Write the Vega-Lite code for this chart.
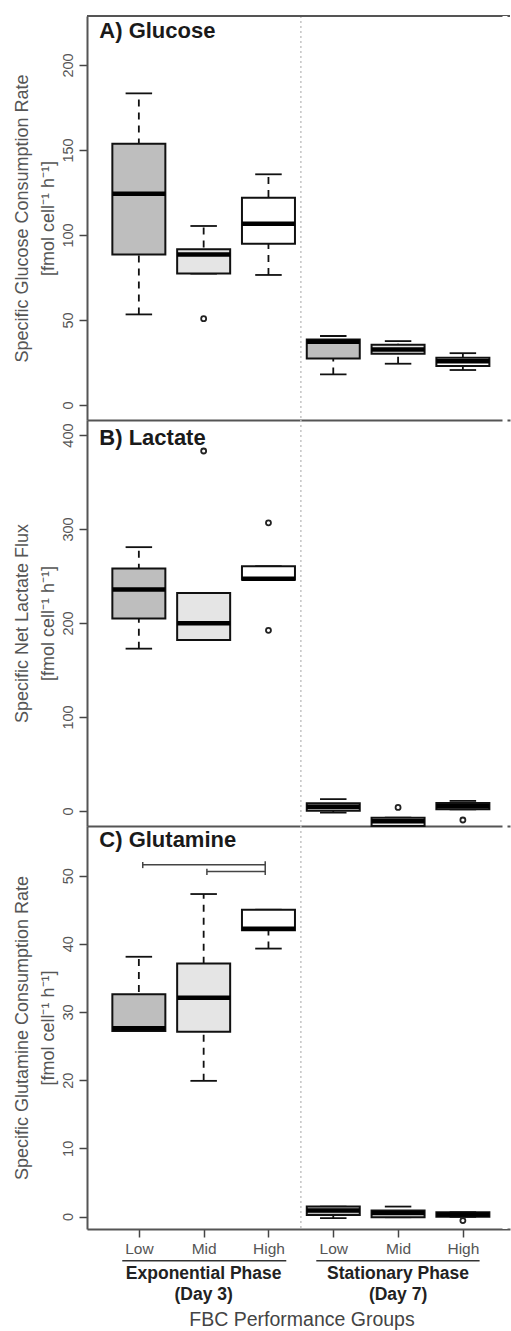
{
  "$schema": "https://vega.github.io/schema/vega-lite/v6.json",
  "padding": {"left": 13, "top": 13, "right": 0, "bottom": 0},
  "spacing": 0,
  "bounds": "flush",
  "config": {
    "font": "Liberation Sans",
    "view": {"stroke": null, "strokeWidth": 0},
    "axis": {"grid": false, "domainColor": "#555555", "domainWidth": 2, "tickColor": "#444444", "tickWidth": 1.5, "labelColor": "#555555", "titleColor": "#555555", "titleFontWeight": "normal", "labelOverlap": false},
    "axisRight": {"disable": true, "domain": false, "ticks": false, "labels": false, "grid": false}
  },
  "datasets": {
    "glucose": [
      {"phase": "Exponential", "group": "Low", "pos": 1, "lo": 53.3, "q1": 88.6, "med": 124.3, "q3": 153.7, "hi": 183.3},
      {"phase": "Exponential", "group": "Mid", "pos": 2, "lo": 77.3, "q1": 77.3, "med": 88.6, "q3": 91.6, "hi": 105.3},
      {"phase": "Exponential", "group": "High", "pos": 3, "lo": 76.5, "q1": 94.9, "med": 106.6, "q3": 121.9, "hi": 135.7},
      {"phase": "Stationary", "group": "Low", "pos": 4, "lo": 18.0, "q1": 27.3, "med": 37.2, "q3": 38.6, "hi": 40.6},
      {"phase": "Stationary", "group": "Mid", "pos": 5, "lo": 24.3, "q1": 30.2, "med": 32.7, "q3": 35.5, "hi": 37.6},
      {"phase": "Stationary", "group": "High", "pos": 6, "lo": 20.6, "q1": 22.9, "med": 25.7, "q3": 27.8, "hi": 30.5}
    ],
    "glucose_out": [
      {"group": "Mid", "pos": 2, "value": 50.8}
    ],
    "lactate": [
      {"phase": "Exponential", "group": "Low", "pos": 1, "lo": 172.7, "q1": 204.7, "med": 235.6, "q3": 258.0, "hi": 280.7},
      {"phase": "Exponential", "group": "Mid", "pos": 2, "lo": 181.9, "q1": 181.9, "med": 199.7, "q3": 232.0, "hi": 232.0},
      {"phase": "Exponential", "group": "High", "pos": 3, "lo": 246.0, "q1": 246.0, "med": 247.0, "q3": 260.4, "hi": 260.4},
      {"phase": "Stationary", "group": "Low", "pos": 4, "lo": -1.8, "q1": 0.3, "med": 4.6, "q3": 8.1, "hi": 12.6},
      {"phase": "Stationary", "group": "Mid", "pos": 5, "lo": -16.0, "q1": -16.0, "med": -11.0, "q3": -7.1, "hi": -7.1},
      {"phase": "Stationary", "group": "High", "pos": 6, "lo": 1.7, "q1": 1.7, "med": 5.0, "q3": 8.6, "hi": 10.7}
    ],
    "lactate_out": [
      {"group": "Mid", "pos": 2, "value": 383.0},
      {"group": "High", "pos": 3, "value": 306.6},
      {"group": "High", "pos": 3, "value": 192.2},
      {"group": "Mid", "pos": 5, "value": 3.8},
      {"group": "High", "pos": 6, "value": -9.6}
    ],
    "glutamine": [
      {"phase": "Exponential", "group": "Low", "pos": 1, "lo": 27.2, "q1": 27.2, "med": 27.6, "q3": 32.6, "hi": 38.1},
      {"phase": "Exponential", "group": "Mid", "pos": 2, "lo": 19.9, "q1": 27.1, "med": 32.1, "q3": 37.1, "hi": 47.3},
      {"phase": "Exponential", "group": "High", "pos": 3, "lo": 39.3, "q1": 42.0, "med": 42.2, "q3": 45.0, "hi": 45.0},
      {"phase": "Stationary", "group": "Low", "pos": 4, "lo": -0.24, "q1": 0.24, "med": 0.9, "q3": 1.46, "hi": 1.46},
      {"phase": "Stationary", "group": "Mid", "pos": 5, "lo": -0.1, "q1": -0.1, "med": 0.5, "q3": 0.88, "hi": 1.46},
      {"phase": "Stationary", "group": "High", "pos": 6, "lo": -0.05, "q1": -0.05, "med": 0.3, "q3": 0.63, "hi": 0.63}
    ],
    "glutamine_out": [
      {"group": "High", "pos": 6, "value": -0.6}
    ],
    "brackets": [
      {"from": 1.06, "to": 2.95, "level": 51.6},
      {"from": 2.05, "to": 2.95, "level": 50.6}
    ],
    "bracket_caps": [
      {"at": 1.06, "bottom": 51.1, "top": 52.0},
      {"at": 2.05, "bottom": 50.1, "top": 51.0},
      {"at": 2.95, "bottom": 50.1, "top": 52.1}
    ],
    "phases": [
      {"pos": 2, "label": "Exponential Phase\n(Day 3)"},
      {"pos": 5, "label": "Stationary Phase\n(Day 7)"}
    ]
  },
  "vconcat": [
    {
      "width": 423,
      "height": 404,
      "layer": [
        {"data": {"values": [{}]}, "mark": {"type": "rule", "color": "#c4c4c4", "strokeDash": [2, 3], "strokeWidth": 1.5}, "encoding": {"x": {"datum": 3.5, "type": "quantitative"}}},
        {"data": {"name": "glucose"}, "mark": {"type": "rule", "color": "#111111", "strokeWidth": 1.8, "strokeDash": [7, 6]},
          "encoding": {
            "x": {"field": "pos", "type": "quantitative", "scale": {"domain": [0.277, 6.65], "nice": false, "zero": false}, "axis": {"values": [1, 2, 3, 4, 5, 6], "labels": false, "ticks": false, "title": null}},
            "y": {"field": "lo", "type": "quantitative", "scale": {"domain": [-8.8, 228.8], "nice": false, "zero": false}, "axis": {"values": [0, 50, 100, 150, 200], "labelAngle": 270, "labelAlign": "center", "labelBaseline": "bottom", "labelFontSize": 14.5, "labelPadding": 4, "tickSize": 8, "title": ["Specific Glucose Consumption Rate", "[fmol cell⁻¹ h⁻¹]"], "titleFontSize": 18, "titleAngle": 270, "titleX": -64.5, "titleBaseline": "middle", "titleAlign": "center", "titleLineHeight": 26}},
            "y2": {"field": "hi"}
          }},
        {"data": {"name": "glucose"}, "mark": {"type": "tick", "orient": "horizontal", "size": 26.5, "thickness": 1.8, "color": "#111111", "opacity": 1}, "encoding": {"x": {"field": "pos", "type": "quantitative"}, "y": {"field": "lo", "type": "quantitative"}}},
        {"data": {"name": "glucose"}, "mark": {"type": "tick", "orient": "horizontal", "size": 26.5, "thickness": 1.8, "color": "#111111", "opacity": 1}, "encoding": {"x": {"field": "pos", "type": "quantitative"}, "y": {"field": "hi", "type": "quantitative"}}},
        {"data": {"name": "glucose"}, "mark": {"type": "bar", "width": 53, "stroke": "#111111", "strokeWidth": 2},
          "encoding": {"x": {"field": "pos", "type": "quantitative"}, "y": {"field": "q1", "type": "quantitative"}, "y2": {"field": "q3"},
            "fill": {"field": "group", "type": "nominal", "scale": {"domain": ["Low", "Mid", "High"], "range": ["#bebebe", "#e5e5e5", "#ffffff"]}, "legend": null}}},
        {"data": {"name": "glucose"}, "mark": {"type": "tick", "orient": "horizontal", "size": 53, "thickness": 4.5, "color": "#000000", "opacity": 1}, "encoding": {"x": {"field": "pos", "type": "quantitative"}, "y": {"field": "med", "type": "quantitative"}}},
        {"data": {"name": "glucose_out"}, "mark": {"type": "point", "shape": "circle", "filled": false, "size": 25, "strokeWidth": 1.8, "color": "#222222", "opacity": 1}, "encoding": {"x": {"field": "pos", "type": "quantitative"}, "y": {"field": "value", "type": "quantitative"}}},
        {"data": {"values": [{}]}, "mark": {"type": "rule", "color": "#555555", "strokeWidth": 2}, "encoding": {"y": {"datum": 228.8, "type": "quantitative"}}},
        {"data": {"values": [{"panel": "A) Glucose"}]}, "mark": {"type": "text", "fontSize": 22, "fontWeight": "bold", "color": "#1a1a1a", "align": "left", "baseline": "alphabetic"}, "encoding": {"x": {"datum": 0.39, "type": "quantitative"}, "y": {"datum": 215.9, "type": "quantitative"}, "text": {"field": "panel"}}},
        {"data": {"values": [{}]}, "mark": {"type": "rule", "color": "#ffffff", "strokeWidth": 5}, "encoding": {"x": {"datum": 6.65, "type": "quantitative"}}}
      ]
    },
    {
      "width": 423,
      "height": 406,
      "layer": [
        {"data": {"values": [{}]}, "mark": {"type": "rule", "color": "#c4c4c4", "strokeDash": [2, 3], "strokeWidth": 1.5}, "encoding": {"x": {"datum": 3.5, "type": "quantitative"}}},
        {"data": {"name": "lactate"}, "mark": {"type": "rule", "color": "#111111", "strokeWidth": 1.8, "strokeDash": [7, 6]},
          "encoding": {
            "x": {"field": "pos", "type": "quantitative", "scale": {"domain": [0.277, 6.65], "nice": false, "zero": false}, "axis": {"values": [1, 2, 3, 4, 5, 6], "labels": false, "ticks": false, "title": null}},
            "y": {"field": "lo", "type": "quantitative", "scale": {"domain": [-16, 416], "nice": false, "zero": false}, "axis": {"values": [0, 100, 200, 300, 400], "labelAngle": 270, "labelAlign": "center", "labelBaseline": "bottom", "labelFontSize": 14.5, "labelPadding": 4, "tickSize": 8, "title": ["Specific Net Lactate Flux", "[fmol cell⁻¹ h⁻¹]"], "titleFontSize": 18, "titleAngle": 270, "titleX": -64.5, "titleBaseline": "middle", "titleAlign": "center", "titleLineHeight": 26}},
            "y2": {"field": "hi"}
          }},
        {"data": {"name": "lactate"}, "mark": {"type": "tick", "orient": "horizontal", "size": 26.5, "thickness": 1.8, "color": "#111111", "opacity": 1}, "encoding": {"x": {"field": "pos", "type": "quantitative"}, "y": {"field": "lo", "type": "quantitative"}}},
        {"data": {"name": "lactate"}, "mark": {"type": "tick", "orient": "horizontal", "size": 26.5, "thickness": 1.8, "color": "#111111", "opacity": 1}, "encoding": {"x": {"field": "pos", "type": "quantitative"}, "y": {"field": "hi", "type": "quantitative"}}},
        {"data": {"name": "lactate"}, "mark": {"type": "bar", "width": 53, "stroke": "#111111", "strokeWidth": 2},
          "encoding": {"x": {"field": "pos", "type": "quantitative"}, "y": {"field": "q1", "type": "quantitative"}, "y2": {"field": "q3"},
            "fill": {"field": "group", "type": "nominal", "scale": {"domain": ["Low", "Mid", "High"], "range": ["#bebebe", "#e5e5e5", "#ffffff"]}, "legend": null}}},
        {"data": {"name": "lactate"}, "mark": {"type": "tick", "orient": "horizontal", "size": 53, "thickness": 4.5, "color": "#000000", "opacity": 1}, "encoding": {"x": {"field": "pos", "type": "quantitative"}, "y": {"field": "med", "type": "quantitative"}}},
        {"data": {"name": "lactate_out"}, "mark": {"type": "point", "shape": "circle", "filled": false, "size": 25, "strokeWidth": 1.8, "color": "#222222", "opacity": 1}, "encoding": {"x": {"field": "pos", "type": "quantitative"}, "y": {"field": "value", "type": "quantitative"}}},
        {"data": {"values": [{"panel": "B) Lactate"}]}, "mark": {"type": "text", "fontSize": 22, "fontWeight": "bold", "color": "#1a1a1a", "align": "left", "baseline": "alphabetic"}, "encoding": {"x": {"datum": 0.39, "type": "quantitative"}, "y": {"datum": 389.7, "type": "quantitative"}, "text": {"field": "panel"}}},
        {"data": {"values": [{}]}, "mark": {"type": "rule", "color": "#ffffff", "strokeWidth": 5}, "encoding": {"x": {"datum": 6.65, "type": "quantitative"}}}
      ]
    },
    {
      "width": 423,
      "height": 403,
      "layer": [
        {"data": {"values": [{}]}, "mark": {"type": "rule", "color": "#c4c4c4", "strokeDash": [2, 3], "strokeWidth": 1.5}, "encoding": {"x": {"datum": 3.5, "type": "quantitative"}}},
        {"data": {"name": "glutamine"}, "mark": {"type": "rule", "color": "#111111", "strokeWidth": 1.8, "strokeDash": [7, 6]},
          "encoding": {
            "x": {"field": "pos", "type": "quantitative", "scale": {"domain": [0.277, 6.65], "nice": false, "zero": false}, "axis": {"values": [1, 2, 3, 4, 5, 6], "labelExpr": "['Low','Mid','High','Low','Mid','High'][datum.value - 1]", "labelFontSize": 15.5, "labelPadding": 4, "tickSize": 8, "labelFlush": false, "title": "FBC Performance Groups", "titleFontSize": 19.5, "titleColor": "#444444", "titleX": 214.5, "titleY": 96.8, "titleBaseline": "alphabetic", "titleAlign": "center"}},
            "y": {"field": "lo", "type": "quantitative", "scale": {"domain": [-1.83, 57.28], "nice": false, "zero": false}, "axis": {"values": [0, 10, 20, 30, 40, 50], "labelAngle": 270, "labelAlign": "center", "labelBaseline": "bottom", "labelFontSize": 14.5, "labelPadding": 4, "tickSize": 8, "title": ["Specific Glutamine Consumption Rate", "[fmol cell⁻¹ h⁻¹]"], "titleFontSize": 18, "titleAngle": 270, "titleX": -64.5, "titleBaseline": "middle", "titleAlign": "center", "titleLineHeight": 26}},
            "y2": {"field": "hi"}
          }},
        {"data": {"name": "glutamine"}, "mark": {"type": "tick", "orient": "horizontal", "size": 26.5, "thickness": 1.8, "color": "#111111", "opacity": 1}, "encoding": {"x": {"field": "pos", "type": "quantitative"}, "y": {"field": "lo", "type": "quantitative"}}},
        {"data": {"name": "glutamine"}, "mark": {"type": "tick", "orient": "horizontal", "size": 26.5, "thickness": 1.8, "color": "#111111", "opacity": 1}, "encoding": {"x": {"field": "pos", "type": "quantitative"}, "y": {"field": "hi", "type": "quantitative"}}},
        {"data": {"name": "glutamine"}, "mark": {"type": "bar", "width": 53, "stroke": "#111111", "strokeWidth": 2},
          "encoding": {"x": {"field": "pos", "type": "quantitative"}, "y": {"field": "q1", "type": "quantitative"}, "y2": {"field": "q3"},
            "fill": {"field": "group", "type": "nominal", "scale": {"domain": ["Low", "Mid", "High"], "range": ["#bebebe", "#e5e5e5", "#ffffff"]}, "legend": null}}},
        {"data": {"name": "glutamine"}, "mark": {"type": "tick", "orient": "horizontal", "size": 53, "thickness": 4.5, "color": "#000000", "opacity": 1}, "encoding": {"x": {"field": "pos", "type": "quantitative"}, "y": {"field": "med", "type": "quantitative"}}},
        {"data": {"name": "glutamine_out"}, "mark": {"type": "point", "shape": "circle", "filled": false, "size": 25, "strokeWidth": 1.8, "color": "#222222", "opacity": 1}, "encoding": {"x": {"field": "pos", "type": "quantitative"}, "y": {"field": "value", "type": "quantitative"}}},
        {"data": {"name": "brackets"}, "mark": {"type": "rule", "color": "#444444", "strokeWidth": 1.5}, "encoding": {"x": {"field": "from", "type": "quantitative"}, "x2": {"field": "to"}, "y": {"field": "level", "type": "quantitative"}}},
        {"data": {"name": "bracket_caps"}, "mark": {"type": "rule", "color": "#444444", "strokeWidth": 1.5}, "encoding": {"x": {"field": "at", "type": "quantitative"}, "y": {"field": "bottom", "type": "quantitative"}, "y2": {"field": "top"}}},
        {"data": {"values": [{}]}, "mark": {"type": "rule", "color": "#333333", "strokeWidth": 1.5}, "encoding": {"x": {"datum": 0.744, "type": "quantitative"}, "x2": {"datum": 3.275}, "y": {"datum": -6.48, "type": "quantitative"}}},
        {"data": {"values": [{}]}, "mark": {"type": "rule", "color": "#333333", "strokeWidth": 1.5}, "encoding": {"x": {"datum": 3.738, "type": "quantitative"}, "x2": {"datum": 6.258}, "y": {"datum": -6.48, "type": "quantitative"}}},
        {"data": {"name": "phases"}, "mark": {"type": "text", "fontSize": 17.5, "fontWeight": "bold", "color": "#222222", "lineBreak": "\n", "lineHeight": 20.5, "baseline": "middle", "align": "center"}, "encoding": {"x": {"field": "pos", "type": "quantitative"}, "y": {"datum": -8.46, "type": "quantitative"}, "text": {"field": "label"}}},
        {"data": {"values": [{"panel": "C) Glutamine"}]}, "mark": {"type": "text", "fontSize": 22, "fontWeight": "bold", "color": "#1a1a1a", "align": "left", "baseline": "alphabetic"}, "encoding": {"x": {"datum": 0.39, "type": "quantitative"}, "y": {"datum": 54.27, "type": "quantitative"}, "text": {"field": "panel"}}},
        {"data": {"values": [{}]}, "mark": {"type": "rule", "color": "#ffffff", "strokeWidth": 5}, "encoding": {"x": {"datum": 6.65, "type": "quantitative"}}}
      ]
    }
  ]
}
